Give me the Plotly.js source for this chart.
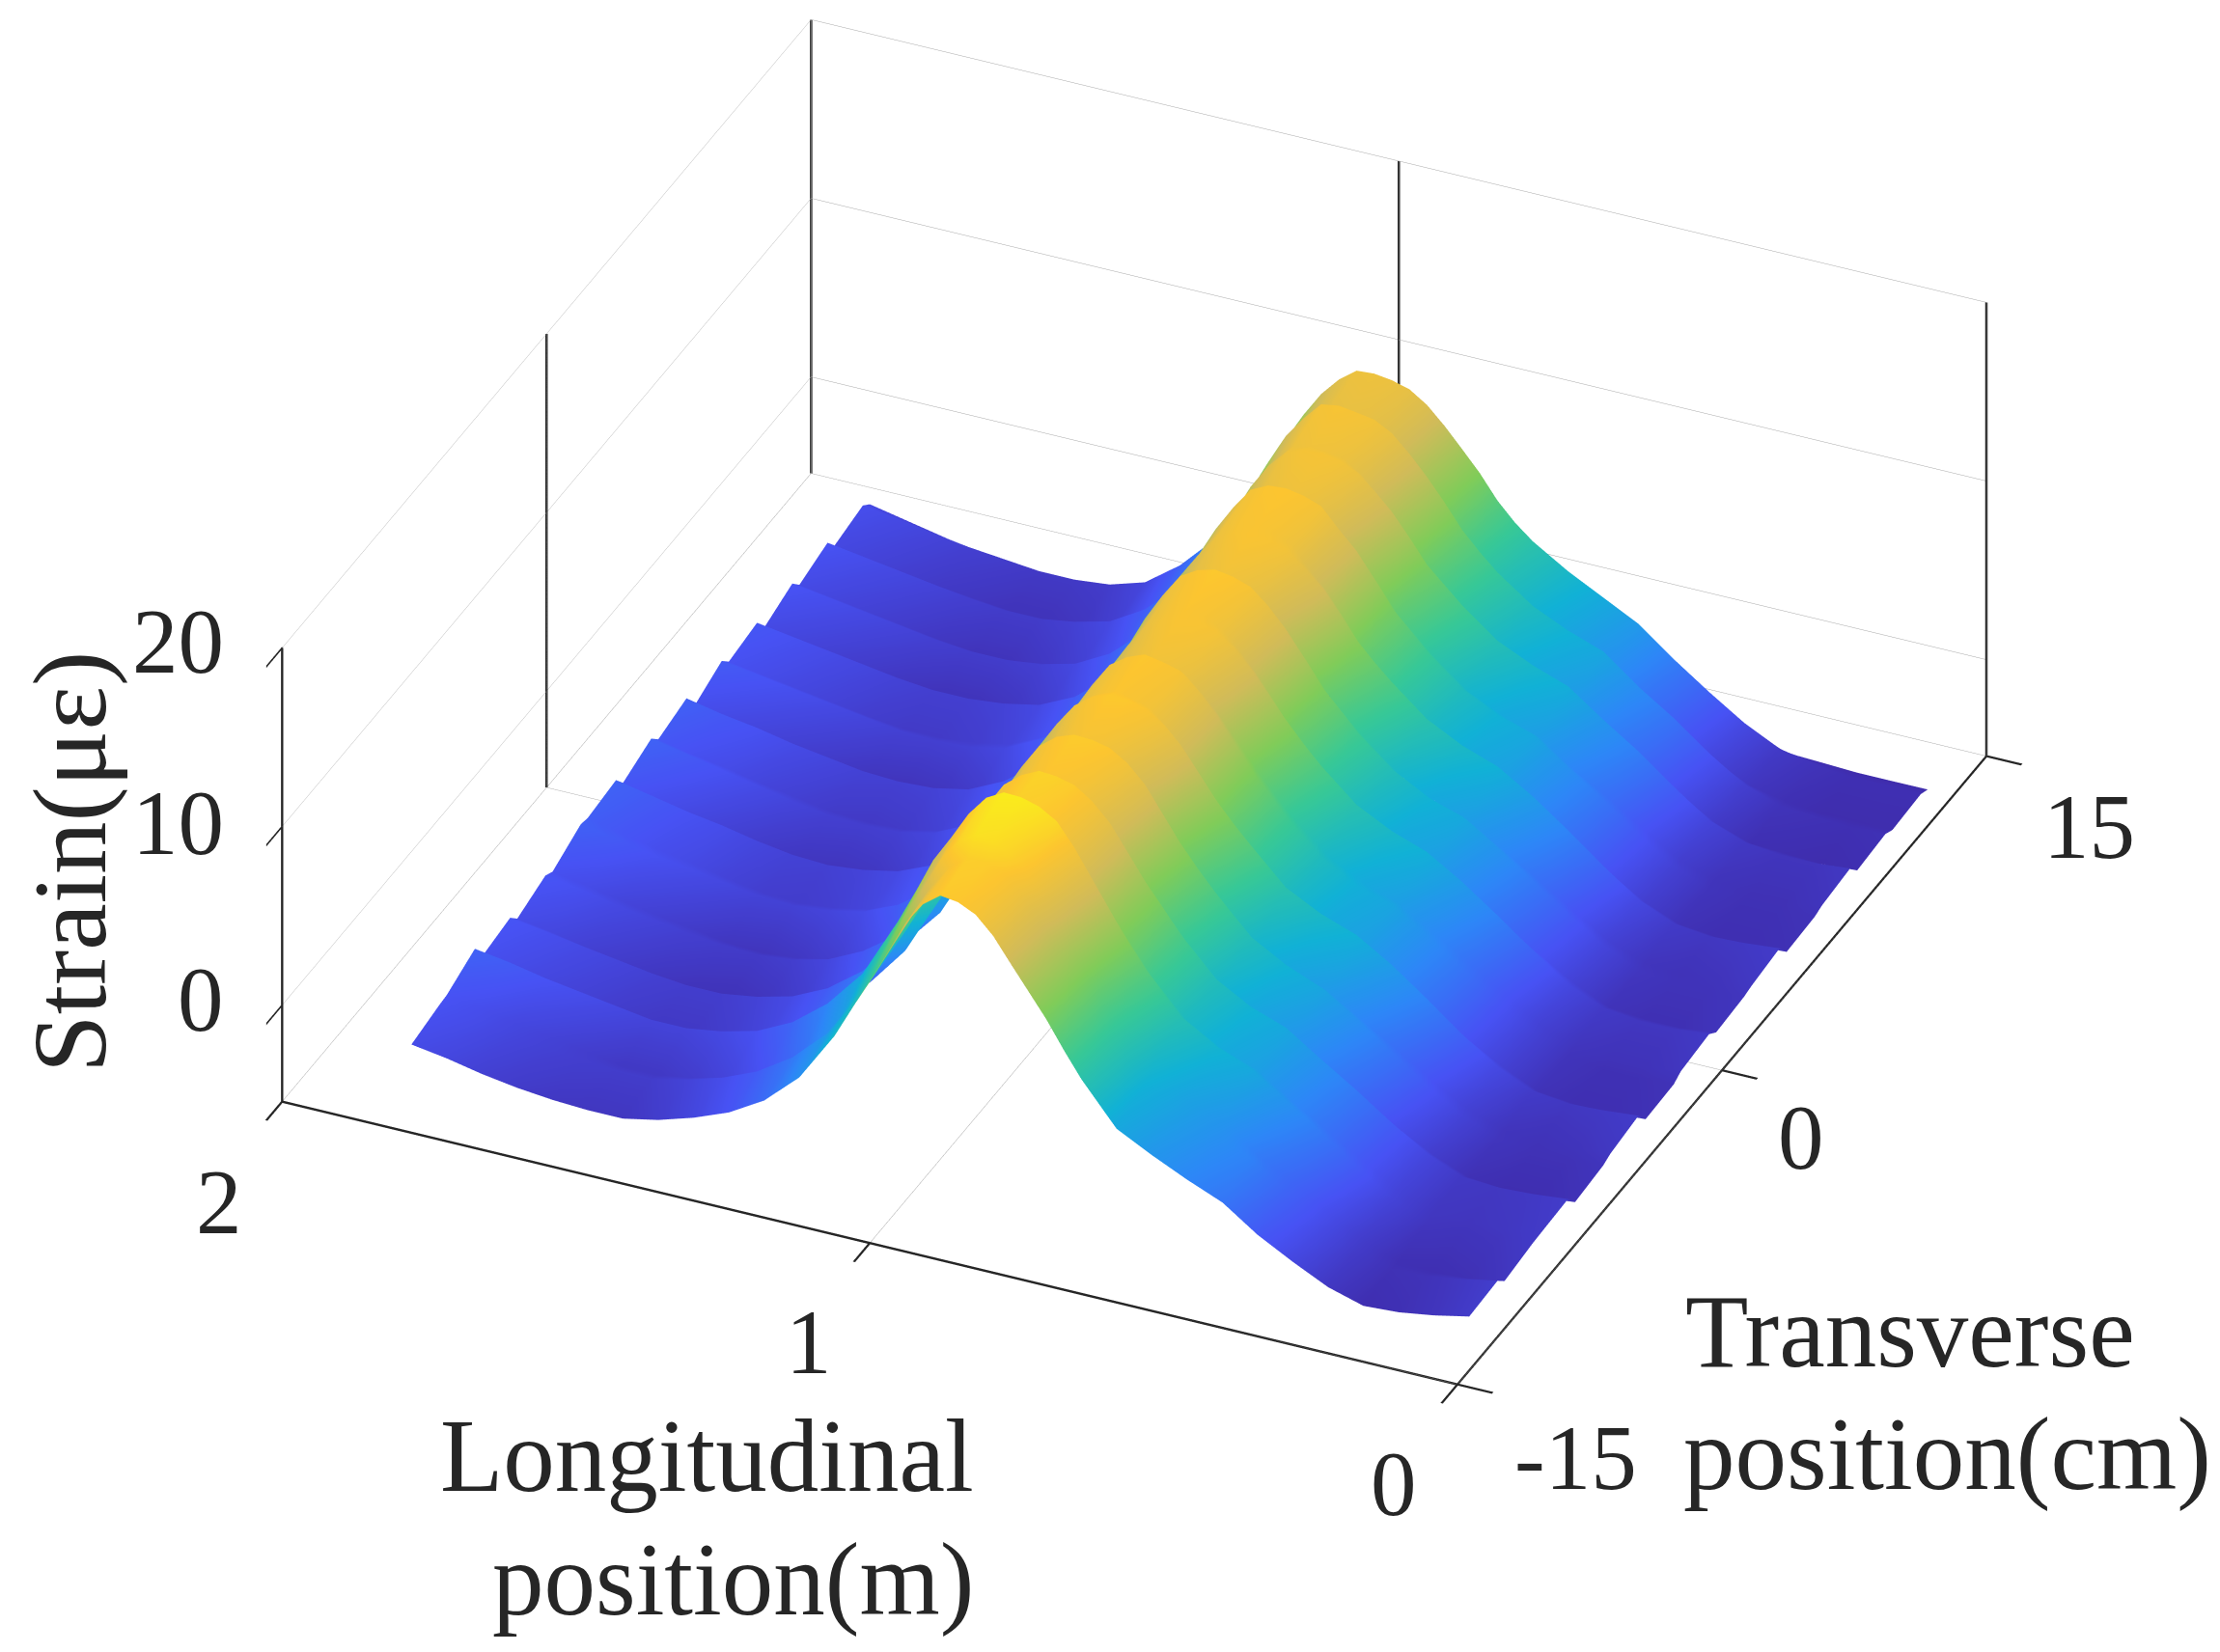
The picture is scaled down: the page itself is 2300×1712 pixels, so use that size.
<!DOCTYPE html>
<html>
<head>
<meta charset="utf-8">
<script src="https://cdn.plot.ly/plotly-3.0.1.min.js"></script>
<style>html,body{margin:0;padding:0;background:#fff}#plot{width:2300px;height:1712px}</style>
</head>
<body>
<div id="plot"></div>
<script>
// Strain surface: one row per longitudinal position,
// one column per transverse band.
var LONGITUDINAL = [0.04,0.10,0.16,0.22,0.28,0.34,0.40,0.46,0.52,0.58,0.64,0.70,0.73,0.76,0.79,0.82,0.85,0.88,0.91,0.94,0.97,
  1.00,1.03,1.06,1.09,1.12,1.18,1.24,1.30,1.36,1.42,1.48,1.54,1.60,1.66,1.72,1.78,1.84];
// each band tilts across its width and then steps back at its edge
var BAND_START = [-13,-11,-9,-7,-5,-3,-1,1,3,5,7,9,11,13];
var BAND_WIDTH = 1.6;
// how far each row rises across one band, and how strong that is per band
var BAND_TILT = [0.1,0.12,0.12,0.15,0.2,0.3,0.4,0.5,0.5,0.5,0.5,0.5,0.5,0.5,0.5,0.5,0.45,0.35,0.25,0.2,0.25,
  0.3,0.4,0.5,0.5,0.5,0.5,0.45,0.35,0.3,0.3,0.3,0.3,0.3,0.3,0.3,0.3,0.3];
var BAND_STEP = [0.6,1.2,0.5,0.9,1.3,0.4,1.0,0.7,1.2,0.5,1.0,0.8,0.6,0.4];

var STRAIN = [
  [-4.2,-4.5,-4.3,-4.8,-4.4,-4.9,-4.5,-4.7,-4.4,-4.9,-4.6,-5.0,-5.1,-5.2],
  [-4.6,-4.8,-4.5,-5.0,-4.6,-5.0,-4.7,-4.9,-4.6,-5.0,-4.8,-5.1,-5.1,-5.2],
  [-4.9,-4.9,-4.6,-5.0,-4.7,-5.0,-4.7,-4.9,-4.7,-5.0,-4.8,-5.0,-5.1,-5.2],
  [-5.0,-4.8,-4.5,-4.8,-4.5,-4.8,-4.5,-4.7,-4.5,-4.8,-4.6,-4.9,-4.9,-5.1],
  [-4.4,-4.0,-3.7,-4.0,-3.7,-3.9,-3.7,-3.8,-3.7,-4.0,-3.9,-4.2,-4.5,-5.0],
  [-3.4,-2.8,-2.5,-2.9,-2.5,-2.8,-2.4,-2.6,-2.4,-2.8,-2.6,-3.0,-3.6,-4.3],
  [-2.3,-1.5,-1.2,-1.6,-1.1,-1.4,-1.0,-1.3,-1.0,-1.4,-1.2,-1.6,-2.4,-3.2],
  [-0.9,-0.3,0.0,-0.3,0.2,-0.1,0.3,0.0,0.3,-0.1,0.0,-0.4,-1.1,-1.6],
  [-0.1,1.0,1.3,1.0,1.4,1.2,1.5,1.3,1.5,1.3,1.4,1.1,0.4,0.0],
  [0.8,1.8,2.0,1.8,2.1,1.8,2.2,1.9,2.2,1.9,2.1,1.8,1.4,1.1],
  [1.8,3.0,3.1,2.9,3.1,2.9,3.2,3.0,3.2,2.9,3.0,2.7,2.4,1.7],
  [4.1,5.2,5.1,4.9,5.0,4.7,4.9,4.6,4.8,4.5,4.5,4.1,3.6,2.7],
  [5.5,6.5,6.4,6.0,6.0,5.8,5.9,5.7,5.7,5.5,5.4,5.0,4.4,3.3],
  [7.0,8.0,7.6,7.2,7.1,6.9,7.0,6.7,6.7,6.5,6.3,6.0,5.4,4.1],
  [8.3,9.5,9.0,8.6,8.4,8.2,8.2,8.1,8.0,7.9,7.6,7.3,6.7,5.2],
  [9.6,11.0,10.4,10.0,9.7,9.5,9.4,9.4,9.2,9.2,8.8,8.5,7.8,6.2],
  [10.9,12.3,11.4,11.0,10.7,10.6,10.4,10.5,10.1,10.2,9.8,9.6,8.9,7.2],
  [11.8,13.0,12.1,11.7,11.4,11.5,11.2,11.4,11.0,11.3,10.7,10.6,9.9,8.0],
  [12.2,13.4,12.4,12.0,11.8,11.8,11.5,11.8,11.4,11.7,11.2,11.2,10.6,8.8],
  [12.3,13.5,12.5,12.1,11.9,12.0,11.6,12.0,11.6,11.9,11.4,11.4,10.9,9.2],
  [11.6,12.9,12.0,11.7,11.5,11.6,11.2,11.7,11.3,11.8,11.3,11.5,11.0,9.4],
  [10.3,11.7,11.2,10.9,10.7,10.9,10.5,11.1,10.7,11.3,10.9,11.3,10.9,9.2],
  [8.5,10.0,9.7,9.4,9.3,9.5,9.1,9.7,9.4,10.0,9.8,10.2,10.1,8.5],
  [6.7,8.4,8.1,7.7,7.7,7.9,7.5,8.1,7.9,8.5,8.3,8.9,9.0,7.4],
  [5.0,6.4,6.2,5.9,5.9,6.0,5.7,6.2,6.0,6.6,6.5,7.2,7.6,6.0],
  [3.2,4.5,4.3,4.0,4.0,4.2,3.9,4.3,4.2,4.7,4.7,5.4,6.0,4.6],
  [0.4,1.1,1.0,0.6,0.6,0.8,0.5,0.9,0.7,1.1,1.1,1.6,2.6,1.6],
  [-1.4,-1.0,-1.2,-1.7,-1.6,-1.4,-1.7,-1.4,-1.6,-1.2,-1.2,-0.9,-0.5,-1.0],
  [-2.6,-2.4,-2.6,-3.0,-2.9,-2.7,-3.0,-2.8,-3.0,-2.7,-2.8,-2.6,-2.4,-3.0],
  [-3.4,-3.3,-3.5,-3.9,-3.7,-3.5,-3.9,-3.7,-3.9,-3.6,-3.8,-3.7,-3.8,-4.5],
  [-4.0,-3.8,-4.0,-4.4,-4.1,-3.9,-4.3,-4.1,-4.3,-4.0,-4.3,-4.2,-4.4,-5.0],
  [-4.4,-4.1,-4.3,-4.6,-4.3,-4.1,-4.4,-4.2,-4.4,-4.2,-4.5,-4.5,-4.6,-5.0],
  [-4.4,-4.1,-4.3,-4.5,-4.2,-4.0,-4.3,-4.1,-4.3,-4.2,-4.5,-4.5,-4.6,-5.0],
  [-4.3,-3.8,-4.1,-4.3,-3.9,-3.7,-4.0,-3.8,-4.0,-4.0,-4.3,-4.3,-4.4,-4.9],
  [-4.1,-3.5,-3.8,-4.0,-3.6,-3.3,-3.6,-3.5,-3.7,-3.7,-4.0,-4.0,-4.2,-4.6],
  [-3.8,-3.2,-3.5,-3.7,-3.3,-3.0,-3.2,-3.1,-3.4,-3.4,-3.7,-3.7,-3.9,-4.2],
  [-3.4,-2.8,-3.2,-3.3,-2.9,-2.6,-2.8,-2.8,-3.1,-3.1,-3.4,-3.4,-3.6,-3.8],
  [-3.1,-2.5,-2.9,-3.0,-2.6,-2.2,-2.4,-2.4,-2.8,-2.8,-3.1,-3.1,-3.3,-3.4]
];

var X_TICKS = [-15,0,15];
var Y_TICKS = [0,1,2];
var Z_TICKS = [0,10,20];
var X_RANGE = [-15,15];
var Y_RANGE = [0,2];
var Z_RANGE = [-5.4,20];

var INK = "#262626";
var GRID = "#a8a8a8";
var FONT = "Liberation Serif";

// MATLAB parula
var PARULA = [
  [0,"#3e2aa8"],[0.125,"#4752f4"],[0.25,"#2d87f7"],[0.375,"#11b1d6"],
  [0.5,"#37c897"],[0.625,"#81cc59"],[0.75,"#d1bb59"],[0.875,"#fcc530"],[1,"#f9fb15"]
];

var xs = [];
BAND_START.forEach(function (t) { xs.push(t, t + BAND_WIDTH); });
xs.pop();
var zs = STRAIN.map(function (row, r) {
  var out = [];
  row.forEach(function (v, b) {
    var tilt = BAND_TILT[r] * BAND_STEP[b];
    out.push(v - tilt, v + tilt);
  });
  out.pop();
  return out;
});

var surface = {
  type: "surface",
  x: xs,
  y: LONGITUDINAL,
  z: zs,
  cmin: -5.4,
  cmax: 14.5,
  colorscale: PARULA,
  showscale: false,
  hoverinfo: "skip",
  // no shading in the original, colour comes from the value only
  lighting: { ambient: 1, diffuse: 0, specular: 0, roughness: 1, fresnel: 0 }
};

// dark vertical lines on the back walls
var verticals = {
  type: "scatter3d",
  mode: "lines",
  x: [0,0,null,15,15,null,15,15,null,15,15],
  y: [2,2,null,2,2,null,1,1,null,0,0],
  z: [Z_RANGE[0],20,null,Z_RANGE[0],20,null,Z_RANGE[0],20,null,Z_RANGE[0],20],
  line: { color: INK, width: 5 },
  hoverinfo: "skip",
  showlegend: false
};

function label(text, x, y, z, dx, dy, size, angle, anchor) {
  return {
    x: x, y: y, z: z, text: text, showarrow: false,
    xanchor: anchor || "center", yanchor: "middle", xshift: dx, yshift: dy,
    textangle: angle || 0,
    font: { family: FONT, size: size, color: INK }
  };
}

var TICK_SIZE = 95;
var TITLE_SIZE = 107;
var annotations = [
  label("20", -15, 2, 20, -108, 6, TICK_SIZE),
  label("10", -15, 2, 10, -108, 4, TICK_SIZE),
  label("0", -15, 2, 0, -84, 6, TICK_SIZE),
  label("2", -15, 2, Z_RANGE[0], -65, -104, TICK_SIZE),
  label("1", -15, 1, Z_RANGE[0], -63, -103, TICK_SIZE),
  label("0", -15, 0, Z_RANGE[0], -66, -103, TICK_SIZE),
  label("-15", -15, 0, Z_RANGE[0], 122, -76, TICK_SIZE),
  label("0", 0, 0, Z_RANGE[0], 82, -70, TICK_SIZE),
  label("15", 15, 0, Z_RANGE[0], 106, -73, TICK_SIZE),
  label("Longitudinal", -15, 1, Z_RANGE[0], 110, -221, TITLE_SIZE, 0, "right"),
  label("position(m)", -15, 1, Z_RANGE[0], 110, -349, TITLE_SIZE, 0, "right"),
  label("Transverse", 0, 0, Z_RANGE[0], -40, -271, TITLE_SIZE, 0, "left"),
  label("position(cm)", 0, 0, Z_RANGE[0], -42, -398, TITLE_SIZE, 0, "left"),
  label("Strain(με)", -15, 2, 10, -220, -37, 109, -90)
];

function axis(range, ticks) {
  return {
    title: { text: "" },
    range: range,
    tickmode: "array",
    tickvals: ticks,
    showticklabels: false,
    ticks: "outside",
    ticklen: 40,
    tickwidth: 5,
    tickcolor: INK,
    showline: true,
    linecolor: INK,
    linewidth: 5,
    showgrid: true,
    gridcolor: GRID,
    gridwidth: 1,
    showbackground: false,
    zeroline: false,
    showspikes: false
  };
}

var EYE = 2.5;
var CENTER = { x: -0.085, y: -0.006, z: -0.127 };
var layout = {
  width: 2300,
  height: 1712,
  margin: { l: 0, r: 0, t: 0, b: 0 },
  paper_bgcolor: "#ffffff",
  showlegend: false,
  scene: {
    domain: { x: [0, 1], y: [0, 1] },
    aspectmode: "manual",
    aspectratio: { x: 1.56, y: 1.56, z: 0.65 },
    camera: {
      projection: { type: "orthographic" },
      up: { x: 0, y: 0, z: 1 },
      center: CENTER,
      eye: { x: CENTER.x - 0.771 * EYE, y: CENTER.y - 0.347 * EYE, z: CENTER.z + 0.535 * EYE }
    },
    xaxis: axis(X_RANGE, X_TICKS),
    yaxis: axis(Y_RANGE, Y_TICKS),
    zaxis: axis(Z_RANGE, Z_TICKS),
    annotations: annotations
  }
};

Plotly.newPlot("plot", [surface, verticals], layout, { displayModeBar: false });
</script>
</body>
</html>
